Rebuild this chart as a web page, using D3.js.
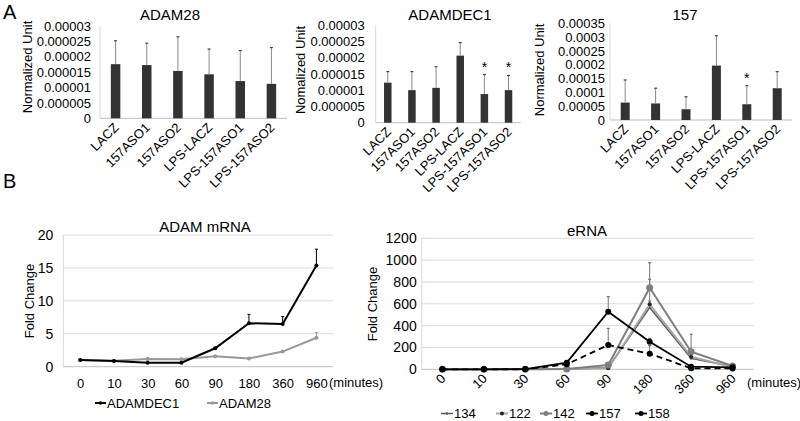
<!DOCTYPE html>
<html><head><meta charset="utf-8">
<script src="https://cdn.jsdelivr.net/npm/d3@7"></script>
<style>body{margin:0;background:#fff}svg{font-family:"Liberation Sans",Arial,sans-serif}</style>
</head><body><svg id="c" width="800" height="421"></svg>
<script>
// ---------- Panel A data ----------
const categoriesA = ["LACZ","157ASO1","157ASO2","LPS-LACZ","LPS-157ASO1","LPS-157ASO2"];
const adam28Mean = [1.76e-5,1.73e-5,1.54e-5,1.43e-5,1.21e-5,1.12e-5];
const adam28Err  = [0.76e-5,0.71e-5,1.11e-5,0.82e-5,0.99e-5,1.18e-5];
const adamdec1Mean = [1.23e-5,1.0e-5,1.07e-5,2.06e-5,0.88e-5,1.0e-5];
const adamdec1Err  = [0.34e-5,0.57e-5,0.65e-5,0.40e-5,0.60e-5,0.45e-5];
const adamdec1Sig  = [false,false,false,false,true,true];
const r157Mean = [6.3e-5,6.0e-5,3.9e-5,1.97e-4,5.7e-5,1.15e-4];
const r157Err  = [8.2e-5,5.5e-5,4.5e-5,1.08e-4,6.7e-5,6.0e-5];
const r157Sig  = [false,false,false,false,true,false];
const ticksSmall = [0,0.000005,0.00001,0.000015,0.00002,0.000025,0.00003];
const ticksSmallLabels = ["0","0.000005","0.00001","0.000015","0.00002","0.000025","0.00003"];
const ticks157 = [0,0.00005,0.0001,0.00015,0.0002,0.00025,0.0003,0.00035];
const ticks157Labels = ["0","0.00005","0.0001","0.00015","0.0002","0.00025","0.0003","0.00035"];

// ---------- Panel B data ----------
const timepoints = ["0","10","30","60","90","180","360","960"];
const adamdec1Fold = [1.0,0.87,0.6,0.6,2.8,6.6,6.5,15.35];
const adamdec1FoldErr = [0.1,0.05,0.05,0.05,0.15,1.35,1.1,2.5];
const adam28Fold = [1.0,0.9,1.17,1.15,1.6,1.25,2.3,4.4];
const adam28FoldErr = [0.05,0.05,0.15,0.05,0.1,0.1,0.15,0.8];
const mrnaTicks = [0,5,10,15,20];

const e134 = [0,0,0,3,15,565,100,25];
const e134Err = [0,0,0,0,0,60,0,0];
const e122 = [0,0,0,3,10,595,116,18];
const e122Err = [0,0,0,0,0,230,0,0];
const e142 = [0,0,0,2,40,747,161,30];
const e142Err = [0,0,0,0,0,229,160,0];
const e157 = [0,0,2,61,528,253,24,18];
const e157Err = [0,0,0,0,137,31,0,0];
const e158 = [0,0,0,46,222,143,9,8];
const e158Err = [0,0,0,0,153,75,0,0];
const ernaTicks = [0,200,400,600,800,1000,1200];

const svg = d3.select("#c");
const FONT = 13;

svg.append("text").attr("x",3).attr("y",19).attr("font-size",20).text("A");
svg.append("text").attr("x",3).attr("y",188).attr("font-size",20).text("B");

function barChart(o){
  const g = svg.append("g");
  const x = d3.scaleBand().domain(categoriesA).range([o.x0,o.x1]);
  const y = d3.scaleLinear().domain([0,o.max]).range([o.y0,o.y1]);
  g.append("line").attr("x1",o.x0).attr("x2",o.x0).attr("y1",o.y1).attr("y2",o.y0).attr("stroke","#d9d9d9");
  g.append("line").attr("x1",o.x0).attr("x2",o.x1).attr("y1",o.y0).attr("y2",o.y0).attr("stroke","#bfbfbf");
  const ya = g.append("g").attr("transform",`translate(${o.x0},0)`)
    .call(d3.axisLeft(y).tickValues(o.ticks).tickFormat((d,i)=>o.labels[i]).tickSize(0).tickPadding(o.pad));
  ya.select(".domain").remove();
  ya.selectAll("text").attr("font-size",FONT).attr("font-family","Liberation Sans, Arial").attr("fill","#000");
  g.selectAll(".bar").data(o.mean).join("rect")
    .attr("x",(d,i)=>x(categoriesA[i])+x.bandwidth()/2-o.bw/2)
    .attr("width",o.bw).attr("y",d=>y(d)).attr("height",d=>o.y0-y(d)).attr("fill","#333");
  o.mean.forEach((m,i)=>{
    const cx = x(categoriesA[i])+x.bandwidth()/2;
    g.append("line").attr("x1",cx).attr("x2",cx).attr("y1",y(m)).attr("y2",y(m+o.err[i])).attr("stroke","#8a8a8a").attr("stroke-width",1);
    g.append("line").attr("x1",cx-1.5).attr("x2",cx+1.5).attr("y1",y(m+o.err[i])).attr("y2",y(m+o.err[i])).attr("stroke","#444").attr("stroke-width",1.2);
    if(o.sig && o.sig[i]){
      g.append("text").attr("x",cx).attr("y",y(m+o.err[i])-3).attr("text-anchor","middle").attr("font-size",14).text("*");
    }
    g.append("text").attr("text-anchor","end").attr("font-size",FONT)
      .attr("transform",`translate(${cx+4},${o.y0+10}) rotate(-45)`).text(categoriesA[i]);
  });
  g.append("text").attr("x",o.tx).attr("y",o.ty).attr("text-anchor","middle").attr("font-size",15).text(o.title);
  g.append("text").attr("transform",`translate(${o.lx},${o.ly}) rotate(-90)`).attr("text-anchor","middle").attr("font-size",FONT).text(o.ylab);
}

barChart({x0:100,x1:287,y0:118.3,y1:26,max:0.00003,ticks:ticksSmall,labels:ticksSmallLabels,pad:9,
  mean:adam28Mean,err:adam28Err,bw:9.5,title:"ADAM28",tx:170,ty:20,ylab:"Normalized Unit",lx:32,ly:67});
barChart({x0:375.7,x1:520.6,y0:122.7,y1:25,max:0.00003,ticks:ticksSmall,labels:ticksSmallLabels,pad:11,
  mean:adamdec1Mean,err:adamdec1Err,sig:adamdec1Sig,bw:7.5,title:"ADAMDEC1",tx:450,ty:20,ylab:"Nomalized Unit",lx:305,ly:70});
barChart({x0:610,x1:792.4,y0:120,y1:23.3,max:0.00035,ticks:ticks157,labels:ticks157Labels,pad:5,
  mean:r157Mean,err:r157Err,sig:r157Sig,bw:9,title:"157",tx:685,ty:20,ylab:"Normalized Unit",lx:544,ly:70});

// ---------- Panel B left ----------
(function(){
  const x0=63.3,x1=333.3,y0=366.7,y1=235;
  const g = svg.append("g");
  const x = d3.scalePoint().domain(timepoints).range([x0,x1]).padding(0.5);
  const y = d3.scaleLinear().domain([0,20]).range([y0,y1]);
  mrnaTicks.forEach(t=>{ if(t>0) g.append("line").attr("x1",x0).attr("x2",x1).attr("y1",y(t)).attr("y2",y(t)).attr("stroke","#d9d9d9"); });
  g.append("line").attr("x1",x0).attr("x2",x0).attr("y1",y1).attr("y2",y0).attr("stroke","#d9d9d9");
  g.append("line").attr("x1",x0).attr("x2",x1).attr("y1",y0).attr("y2",y0).attr("stroke","#bfbfbf");
  const ya = g.append("g").attr("transform",`translate(${x0},0)`).call(d3.axisLeft(y).tickValues(mrnaTicks).tickSize(0).tickPadding(10));
  ya.select(".domain").remove(); ya.selectAll("text").attr("font-size",14).attr("font-family","Liberation Sans, Arial");
  const xa = g.append("g").attr("transform",`translate(0,${y0})`).call(d3.axisBottom(x).tickSize(0).tickPadding(12));
  xa.select(".domain").remove(); xa.selectAll("text").attr("font-size",FONT).attr("font-family","Liberation Sans, Arial");
  g.append("text").attr("x",329).attr("y",387).attr("font-size",FONT).text("(minutes)");
  const series = [
    {v:adam28Fold,e:adam28FoldErr,c:"#999999"},
    {v:adamdec1Fold,e:adamdec1FoldErr,c:"#000000"}];
  const line = d3.line().x((d,i)=>x(timepoints[i])).y(d=>y(d));
  series.forEach(s=>{
    s.v.forEach((v,i)=>{
      if(s.e[i]>0){
        const cx=x(timepoints[i]);
        g.append("line").attr("x1",cx).attr("x2",cx).attr("y1",y(v)).attr("y2",y(v+s.e[i])).attr("stroke",s.c).attr("stroke-width",1);
        g.append("line").attr("x1",cx-1.5).attr("x2",cx+1.5).attr("y1",y(v+s.e[i])).attr("y2",y(v+s.e[i])).attr("stroke",s.c).attr("stroke-width",1);
      }
    });
    g.append("path").datum(s.v).attr("d",line).attr("fill","none").attr("stroke",s.c).attr("stroke-width",2);
    g.selectAll(null).data(s.v).join("circle").attr("cx",(d,i)=>x(timepoints[i])).attr("cy",d=>y(d)).attr("r",2).attr("fill",s.c);
  });
  g.append("text").attr("x",205).attr("y",232).attr("text-anchor","middle").attr("font-size",15).text("ADAM mRNA");
  g.append("text").attr("transform","translate(34,301) rotate(-90)").attr("text-anchor","middle").attr("font-size",FONT).text("Fold Change");
  const leg=[{n:"ADAMDEC1",c:"#000",x:95},{n:"ADAM28",c:"#999",x:207}];
  leg.forEach(l=>{
    g.append("line").attr("x1",l.x).attr("x2",l.x+11).attr("y1",403).attr("y2",403).attr("stroke",l.c).attr("stroke-width",2);
    g.append("circle").attr("cx",l.x+5.5).attr("cy",403).attr("r",1.8).attr("fill",l.c);
    g.append("text").attr("x",l.x+12).attr("y",407.5).attr("font-size",FONT).text(l.n);
  });
})();

// ---------- Panel B right ----------
(function(){
  const x0=421.7,x1=753.3,y0=369.3,y1=238.3;
  const g = svg.append("g");
  const x = d3.scalePoint().domain(timepoints).range([x0,x1]).padding(0.5);
  const y = d3.scaleLinear().domain([0,1200]).range([y0,y1]);
  ernaTicks.forEach(t=>{ if(t>0) g.append("line").attr("x1",x0).attr("x2",x1).attr("y1",y(t)).attr("y2",y(t)).attr("stroke","#d9d9d9"); });
  g.append("line").attr("x1",x0).attr("x2",x0).attr("y1",y1).attr("y2",y0).attr("stroke","#d9d9d9");
  g.append("line").attr("x1",x0).attr("x2",x1).attr("y1",y0).attr("y2",y0).attr("stroke","#bfbfbf");
  const ya = g.append("g").attr("transform",`translate(${x0},0)`).call(d3.axisLeft(y).tickValues(ernaTicks).tickFormat(d3.format("d")).tickSize(0).tickPadding(5));
  ya.select(".domain").remove(); ya.selectAll("text").attr("font-size",14).attr("font-family","Liberation Sans, Arial");
  timepoints.forEach(t=>{
    g.append("text").attr("text-anchor","end").attr("font-size",FONT)
      .attr("transform",`translate(${x(t)+4},${y0+10}) rotate(-45)`).text(t);
  });
  g.append("text").attr("x",747).attr("y",387).attr("font-size",FONT).text("(minutes)");
  const series = [
    {n:"134",v:e134,e:e134Err,c:"#595959",m:"#595959",r:1.3,w:1.5,dash:null},
    {n:"122",v:e122,e:e122Err,c:"#a6a6a6",m:"#222",r:2,w:2,dash:null},
    {n:"142",v:e142,e:e142Err,c:"#7f7f7f",m:"#7f7f7f",r:3.5,w:2,dash:null},
    {n:"157",v:e157,e:e157Err,c:"#000",m:"#000",r:3,w:1.8,dash:null},
    {n:"158",v:e158,e:e158Err,c:"#000",m:"#000",r:3,w:1.8,dash:"6,4"}];
  const line = d3.line().x((d,i)=>x(timepoints[i])).y(d=>y(d));
  series.forEach(s=>{
    s.v.forEach((v,i)=>{
      if(s.e[i]>0){
        const cx=x(timepoints[i]);
        g.append("line").attr("x1",cx).attr("x2",cx).attr("y1",y(v)).attr("y2",y(v+s.e[i])).attr("stroke","#777").attr("stroke-width",1);
        g.append("line").attr("x1",cx-1.5).attr("x2",cx+1.5).attr("y1",y(v+s.e[i])).attr("y2",y(v+s.e[i])).attr("stroke","#555").attr("stroke-width",1);
      }
    });
    g.append("path").datum(s.v).attr("d",line).attr("fill","none").attr("stroke",s.c).attr("stroke-width",s.w).attr("stroke-dasharray",s.dash);
    g.selectAll(null).data(s.v).join("circle").attr("cx",(d,i)=>x(timepoints[i])).attr("cy",d=>y(d)).attr("r",s.r).attr("fill",s.m);
  });
  g.append("text").attr("x",587).attr("y",236).attr("text-anchor","middle").attr("font-size",15).text("eRNA");
  g.append("text").attr("transform","translate(377,304) rotate(-90)").attr("text-anchor","middle").attr("font-size",FONT).text("Fold Change");
  const lx=[441,496,540,586,635];
  series.forEach((s,i)=>{
    g.append("line").attr("x1",lx[i]).attr("x2",lx[i]+12).attr("y1",413.5).attr("y2",413.5).attr("stroke",s.c).attr("stroke-width",s.w);
    g.append("circle").attr("cx",lx[i]+6).attr("cy",413.5).attr("r",Math.min(s.r,2.5)).attr("fill",s.m);
    g.append("text").attr("x",lx[i]+13).attr("y",418).attr("font-size",FONT).text(s.n);
  });
})();
</script></body></html>
